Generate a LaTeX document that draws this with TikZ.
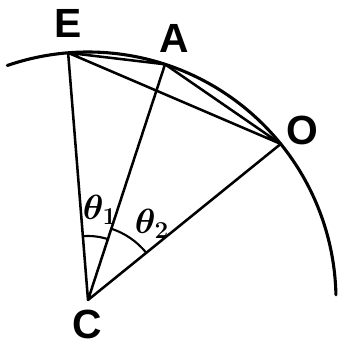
\documentclass[tikz,border=0pt]{standalone}
\usepackage{bm}
\usepackage{fontspec}
\newfontfamily\lblfont{Liberation Sans}
\usetikzlibrary{calc}
\tikzset{
  seg/.style={line width=1.8pt},
  rim/.style={line width=2.2pt},
  tickarc/.style={line width=1.5pt},
  ptlbl/.style={font=\lblfont\bfseries\fontsize{29}{32}\selectfont, inner sep=0pt},
  anglbl/.style={font=\fontsize{27}{30}\selectfont, inner sep=0pt},
  every picture/.style={line cap=round, line join=round}
}

\begin{document}
\begin{tikzpicture}
    \useasboundingbox (-2.2,-1.175) rectangle (6.3,7.5);
    \coordinate (C) at (0,0);
    \coordinate (E) at (94.6:6.2);
    \coordinate (A) at (71.9:6.2);
    \coordinate (O) at (39:6.2);
    \coordinate (W) at (109:6.2);

    \draw[rim] (W) arc[start angle=109, end angle=1.2, radius=6.2];
    \draw[seg] (C)--(E) (C)--(A) (C)--(O);
    \draw[seg] (E)--(A)--(O)--(E);

    \draw[tickarc] (94.6:1.6) arc[start angle=94.6, end angle=71.9, radius=1.6];
    \draw[tickarc] (71.9:1.875) arc[start angle=71.9, end angle=39, radius=1.875];

    \node[ptlbl] (lE) at (-0.5,6.925) {E};
    \node[ptlbl] (lA) at (2.15,6.55) {A};
    \node[ptlbl] (lO) at (5.35,4.25) {O};
    \node[ptlbl] (lC) at (-0.025,-0.62) {C};
    \node[anglbl] (t1) at (0.3,2.25) {$\bm{\theta_1}$};
    \node[anglbl] (t2) at (1.6,1.9) {$\bm{\theta_2}$};
  \end{tikzpicture}
\end{document}
